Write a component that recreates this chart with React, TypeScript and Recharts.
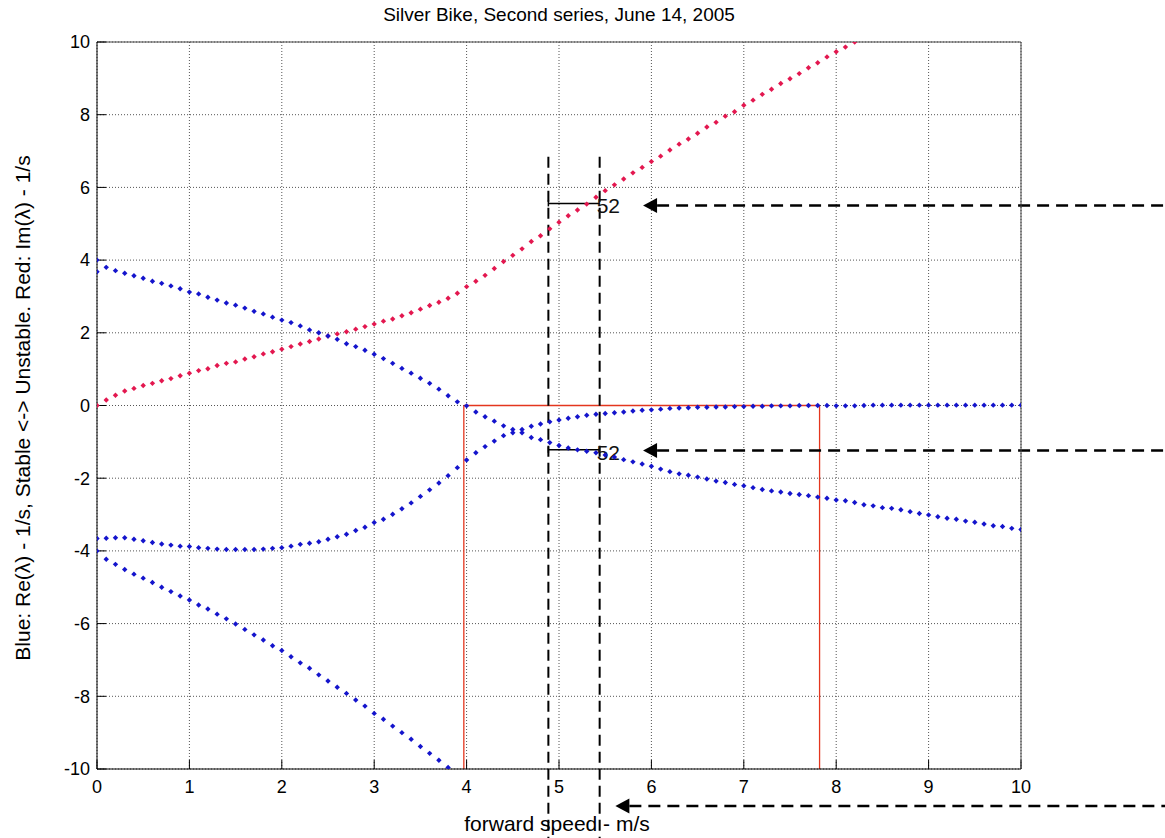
import { ScatterChart, Scatter, XAxis, YAxis, CartesianGrid, ReferenceLine } from "recharts";

// speed grid of the eigenvalue sweep, m/s
const speeds = [
  0, 0.1, 0.2, 0.3, 0.4, 0.5, 0.6, 0.7, 0.8, 0.9,
  1, 1.1, 1.2, 1.3, 1.4, 1.5, 1.6, 1.7, 1.8, 1.9,
  2, 2.1, 2.2, 2.3, 2.4, 2.5, 2.6, 2.7, 2.8, 2.9,
  3, 3.1, 3.2, 3.3, 3.4, 3.5, 3.6, 3.7, 3.8, 3.9,
  4, 4.1, 4.2, 4.3, 4.4, 4.5, 4.6, 4.7, 4.8, 4.9,
  5, 5.1, 5.2, 5.3, 5.4, 5.5, 5.6, 5.7, 5.8, 5.9,
  6, 6.1, 6.2, 6.3, 6.4, 6.5, 6.6, 6.7, 6.8, 6.9,
  7, 7.1, 7.2, 7.3, 7.4, 7.5, 7.6, 7.7, 7.8, 7.9,
  8, 8.1, 8.2, 8.3, 8.4, 8.5, 8.6, 8.7, 8.8, 8.9,
  9, 9.1, 9.2, 9.3, 9.4, 9.5, 9.6, 9.7, 9.8, 9.9, 10,
];

// Im(lambda), weave pair (red)
const imWeave = [
  0, 0.15, 0.28, 0.4, 0.47, 0.55, 0.61, 0.68, 0.74, 0.82,
  0.89, 0.96, 1.01, 1.1, 1.16, 1.2, 1.28, 1.34, 1.42, 1.48,
  1.55, 1.62, 1.69, 1.76, 1.83, 1.91, 1.97, 2.03, 2.1, 2.17,
  2.24, 2.32, 2.38, 2.47, 2.55, 2.65, 2.75, 2.84, 2.95, 3.09,
  3.27, 3.42, 3.58, 3.77, 3.96, 4.13, 4.31, 4.51, 4.67, 4.86,
  5.04, 5.22, 5.38, 5.54, 5.73, 5.91, 6.07, 6.23, 6.4, 6.55,
  6.71, 6.86, 7.03, 7.19, 7.33, 7.49, 7.66, 7.79, 7.96, 8.08,
  8.26, 8.4, 8.56, 8.7, 8.86, 8.99, 9.13, 9.29, 9.43, 9.59,
  9.73, 9.86, 10,
];

// Re(lambda), weave branch (blue, starts at +4)
const reWeave = [
  4, 3.8, 3.71, 3.64, 3.57, 3.5, 3.42, 3.36, 3.29, 3.21,
  3.12, 3.07, 2.98, 2.9, 2.82, 2.76, 2.68, 2.59, 2.52, 2.43,
  2.35, 2.28, 2.19, 2.08, 2.0, 1.91, 1.82, 1.7, 1.62, 1.52,
  1.41, 1.29, 1.16, 1.02, 0.89, 0.75, 0.61, 0.45, 0.27, 0.1,
  -0.01, -0.18, -0.31, -0.43, -0.56, -0.66, -0.75, -0.88, -0.94, -1.02,
  -1.1, -1.17, -1.22, -1.26, -1.3, -1.36, -1.42, -1.49, -1.55, -1.61,
  -1.67, -1.75, -1.82, -1.88, -1.92, -1.97, -2.02, -2.08, -2.12, -2.17,
  -2.21, -2.26, -2.31, -2.35, -2.38, -2.42, -2.45, -2.48, -2.52, -2.55,
  -2.6, -2.62, -2.67, -2.73, -2.76, -2.81, -2.83, -2.87, -2.92, -2.97,
  -3.01, -3.06, -3.1, -3.13, -3.18, -3.21, -3.26, -3.31, -3.33, -3.38, -3.41,
];

// Re(lambda), capsize branch (blue, starts near -3.7)
const reCapsize = [
  -3.66, -3.65, -3.64, -3.64, -3.68, -3.72, -3.77, -3.81, -3.84, -3.87,
  -3.88, -3.91, -3.93, -3.95, -3.96, -3.96, -3.96, -3.96, -3.95, -3.93,
  -3.91, -3.87, -3.82, -3.79, -3.75, -3.68, -3.61, -3.54, -3.44, -3.35,
  -3.22, -3.13, -2.99, -2.84, -2.68, -2.5, -2.32, -2.13, -1.93, -1.71,
  -1.5, -1.3, -1.13, -0.98, -0.83, -0.75, -0.66, -0.57, -0.51, -0.45,
  -0.4, -0.35, -0.31, -0.27, -0.24, -0.22, -0.2, -0.18, -0.15, -0.13,
  -0.12, -0.1, -0.08, -0.07, -0.06, -0.05, -0.05, -0.04, -0.04, -0.03,
  -0.03, -0.02, -0.02, -0.01, -0.01, -0.01, 0, 0, 0, 0,
  -0.01, -0.01, -0.01, 0, 0.01, 0.01, 0.01, 0.01, 0.01, 0.01,
  0.01, 0.01, 0.01, 0.01, 0.01, 0.01, 0.01, 0.01, 0.01, 0.01, 0.01,
];

// Re(lambda), castering branch (blue, starts at -4)
const reCaster = [
  -4, -4.23, -4.37, -4.51, -4.64, -4.75, -4.87, -5.0, -5.12, -5.24,
  -5.35, -5.49, -5.6, -5.74, -5.87, -6.01, -6.16, -6.31, -6.45, -6.61,
  -6.74, -6.91, -7.08, -7.23, -7.41, -7.58, -7.75, -7.92, -8.1, -8.27,
  -8.47, -8.63, -8.82, -9.0, -9.18, -9.38, -9.57, -9.76, -9.96,
];

// extra root at standstill
const restRoots = [3.68];

const xTicks = [0, 1, 2, 3, 4, 5, 6, 7, 8, 9, 10];
const yTicks = [-10, -8, -6, -4, -2, 0, 2, 4, 6, 8, 10];

// stable speed range (weave speed, capsize speed)
const stableRange = [3.97, 7.82];
// measured speed band and its marks
const bandSpeeds = [4.885, 5.44];
const bandTop = 6.84;
const bandBottom = -11.9;
const bandMarks = [5.56, -1.22];
const bandLabel = "52";
// arrows: [tip speed, level]
const arrows = [
  [5.91, 5.5],
  [5.91, -1.24],
  [5.61, -11.02],
];
const arrowEnd = 11.6;

const RED = "#e3174f";
const BLUE = "#1414cc";
const RECT = "#e4361e";
const FONT = "'Liberation Sans', Arial, Helvetica, sans-serif";

const pts = (vals: number[]) => vals.map((y, i) => ({ x: speeds[i], y }));

const Marker = (color: string) => (p: any) => {
  const r = 2.7;
  return (
    <path
      d={`M${p.cx},${p.cy - r}L${p.cx + r},${p.cy}L${p.cx},${p.cy + r}L${p.cx - r},${p.cy}Z`}
      fill={color}
    />
  );
};

const ArrowShape = (p: any) => {
  const { x1, y1, x2 } = p;
  return (
    <g>
      <polygon points={`${x1},${y1} ${x1 + 14},${y1 - 7.5} ${x1 + 14},${y1 + 7.5}`} fill="#000" />
      <line x1={x1 + 14} y1={y1} x2={x2} y2={y1} stroke="#000" strokeWidth={2.5} strokeDasharray="12 7" />
    </g>
  );
};

const MarkShape = (p: any) => {
  const { x1, y1, x2 } = p;
  return (
    <g>
      <line x1={x1} y1={y1} x2={x2} y2={y1} stroke="#000" strokeWidth={1.5} />
      <line x1={x1} y1={y1 - 3} x2={x1} y2={y1 + 3} stroke="#000" strokeWidth={1.5} />
      <text x={x2 - 3} y={y1 + 2.5} fontSize={21} fontFamily={FONT} fill="#111" dominantBaseline="central">
        {bandLabel}
      </text>
    </g>
  );
};

export default function App() {
  const tickStyle = { fontSize: 18, fill: "#000", fontFamily: FONT };
  return (
    <div style={{ position: "absolute", left: 0, top: 0, width: 1165, height: 838, background: "#fff" }}>
      <ScatterChart width={1165} height={838} margin={{ top: 41, right: 143, bottom: 68, left: 96 }}>
        <CartesianGrid stroke="#555" strokeDasharray="1 2" />
        <XAxis
          type="number"
          dataKey="x"
          domain={[0, 10]}
          ticks={xTicks}
          interval={0}
          height={1}
          tickSize={-9}
          tickMargin={20}
          tick={tickStyle}
          axisLine={{ stroke: "#000" }}
          tickLine={{ stroke: "#000" }}
          allowDataOverflow
        />
        <XAxis
          xAxisId="top"
          orientation="top"
          type="number"
          domain={[0, 10]}
          ticks={xTicks}
          interval={0}
          height={1}
          tickSize={-9}
          tick={false}
          axisLine={{ stroke: "#444" }}
          tickLine={{ stroke: "#000" }}
        />
        <YAxis
          type="number"
          dataKey="y"
          domain={[-10, 10]}
          ticks={yTicks}
          interval={0}
          width={1}
          tickSize={-9}
          tickMargin={16}
          tick={tickStyle}
          axisLine={{ stroke: "#000" }}
          tickLine={{ stroke: "#000" }}
          allowDataOverflow
        />
        <YAxis
          yAxisId="right"
          orientation="right"
          type="number"
          domain={[-10, 10]}
          ticks={yTicks}
          interval={0}
          width={1}
          tickSize={-9}
          tick={false}
          axisLine={{ stroke: "#444" }}
          tickLine={{ stroke: "#000" }}
        />

        <ReferenceLine
          segment={[{ x: stableRange[0], y: -10 }, { x: stableRange[0], y: 0 }]}
          stroke={RECT}
          strokeWidth={1.3}
          ifOverflow="visible"
        />
        <ReferenceLine
          segment={[{ x: stableRange[0], y: 0 }, { x: stableRange[1], y: 0 }]}
          stroke={RECT}
          strokeWidth={1.5}
          ifOverflow="visible"
        />
        <ReferenceLine
          segment={[{ x: stableRange[1], y: 0 }, { x: stableRange[1], y: -10 }]}
          stroke={RECT}
          strokeWidth={1.3}
          ifOverflow="visible"
        />

        <Scatter data={pts(imWeave)} shape={Marker(RED)} isAnimationActive={false} />
        <Scatter data={pts(reWeave)} shape={Marker(BLUE)} isAnimationActive={false} />
        <Scatter data={pts(reCapsize)} shape={Marker(BLUE)} isAnimationActive={false} />
        <Scatter data={pts(reCaster)} shape={Marker(BLUE)} isAnimationActive={false} />
        <Scatter data={restRoots.map((y) => ({ x: 0, y }))} shape={Marker(BLUE)} isAnimationActive={false} />

        {bandSpeeds.map((s) => (
          <ReferenceLine
            key={"band" + s}
            segment={[{ x: s, y: bandTop }, { x: s, y: bandBottom }]}
            stroke="#000"
            strokeWidth={2}
            strokeDasharray="11 6"
            ifOverflow="visible"
          />
        ))}
        {bandMarks.map((m) => (
          <ReferenceLine
            key={"mark" + m}
            segment={[{ x: bandSpeeds[0], y: m }, { x: bandSpeeds[1], y: m }]}
            shape={MarkShape}
            ifOverflow="visible"
          />
        ))}
        {arrows.map(([tip, lvl]) => (
          <ReferenceLine
            key={"arrow" + lvl}
            segment={[{ x: tip, y: lvl }, { x: arrowEnd, y: lvl }]}
            shape={ArrowShape}
            ifOverflow="visible"
          />
        ))}

        <text x={559} y={21} textAnchor="middle" fontSize={19} fontFamily={FONT} fill="#000">
          Silver Bike, Second series, June 14, 2005
        </text>
        <text x={557} y={831} textAnchor="middle" fontSize={21} fontFamily={FONT} fill="#000">
          forward speed - m/s
        </text>
        <text
          x={30}
          y={408}
          textAnchor="middle"
          fontSize={21}
          fontFamily={FONT}
          fill="#000"
          transform="rotate(-90 30 408)"
        >
          Blue: Re(λ) - 1/s, Stable &lt;-&gt; Unstable. Red: Im(λ) - 1/s
        </text>
      </ScatterChart>
    </div>
  );
}
